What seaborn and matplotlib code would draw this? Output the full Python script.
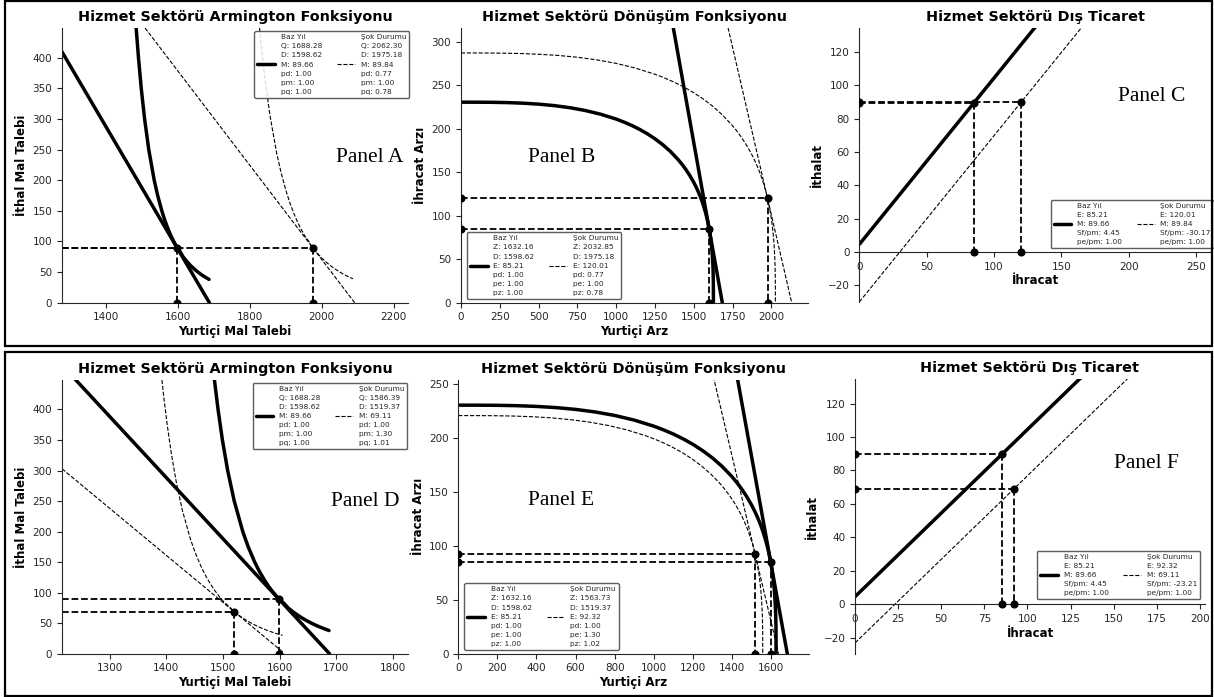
import matplotlib
matplotlib.use("Agg")
import matplotlib.pyplot as plt
import seaborn as sns
from matplotlib.patches import Rectangle
from matplotlib.ticker import MultipleLocator

sns.set_style("ticks")
plt.rcParams["font.family"] = ["DejaVu Sans"]

# ---- equilibrium values (base year / shock cases) ----
base_Q, base_D, base_M, base_Z, base_E = 1688.28, 1598.62, 89.66, 1632.16, 85.21
s1_Q, s1_D, s1_M, s1_Z, s1_E = 2062.30, 1975.18, 89.84, 2032.85, 120.01
s2_Q, s2_D, s2_M, s2_Z, s2_E = 1586.39, 1519.37, 69.11, 1563.73, 92.32

# ---- Armington isoquants (D, M) ----
arm_base_D = [1484.9, 1491.3, 1499.0, 1508.3, 1519.9, 1535.0, 1544.6, 1556.1, 1564.2, 1573.7, 1580.9,
              1589.1, 1598.6, 1608.3, 1615.1, 1624.6, 1637.1, 1646.1, 1656.3, 1667.9, 1681.4, 1687.4]
arm_base_M = [448.3, 400, 350, 300, 250, 200, 175, 150, 135, 120, 110,
              100, 89.66, 82, 75, 68, 60, 55, 50, 45, 40, 38]
arm_s1_D = [1827.7, 1831.1, 1842.4, 1856.6, 1875.1, 1886.8, 1900.9, 1910.7, 1922.3, 1931.1, 1941.1, 1952.7,
            1964.6, 1972.9, 1984.5, 1999.8, 2010.8, 2023.2, 2037.4, 2053.9, 2061.2, 2073.3, 2086.9]
arm_s1_M = [448.3, 427.5, 366.5, 305.4, 244.3, 213.8, 183.2, 164.9, 146.6, 134.4, 122.2, 109.5,
            100.2, 91.6, 83.1, 73.3, 67.2, 61.1, 55.0, 48.9, 46.4, 42.8, 39.1]
arm_s2_D = [1392.1, 1395.3, 1401.3, 1408.5, 1417.3, 1428.2, 1442.4, 1451.4, 1462.2, 1469.8, 1478.7, 1485.5,
            1493.2, 1502.1, 1511.2, 1517.6, 1526.5, 1538.3, 1546.8, 1556.3, 1567.2, 1579.9, 1585.6, 1594.9, 1605.3]
arm_s2_M = [448.3, 421.2, 375.9, 328.9, 281.9, 234.9, 187.9, 164.4, 140.9, 126.9, 112.8, 103.4,
            94.0, 84.2, 77.1, 70.5, 63.9, 56.4, 51.7, 47.0, 42.3, 37.6, 35.7, 32.9, 30.1]

# ---- isocost lines (D, M) ----
A_base_line_D, A_base_line_M = [1250, 1688.28], [438.28, 0]
A_s1_line_D, A_s1_line_M = [1450, 2091.9], [494.2, 0]
D_base_line_D, D_base_line_M = [1200, 1688.28], [488.28, 0]
D_s2_line_D, D_s2_line_M = [1215.5, 1606], [302.9, 2.5]

# ---- CET frontiers (D, E) ----
cet_base_D = [0, 100, 200, 300, 400, 500, 600, 700, 800, 900, 1000, 1050, 1100, 1150, 1200, 1250,
              1300, 1350, 1400, 1425, 1450, 1475, 1500, 1515, 1525, 1540, 1550, 1560, 1575, 1585,
              1590, 1598.62, 1605, 1610, 1615, 1618, 1620, 1623, 1624, 1625, 1626, 1626.2, 1626.53]
cet_base_E = [230.37, 230.35, 230.23, 229.89, 229.22, 228.12, 226.45, 224.08, 220.85, 216.55, 210.95,
              207.52, 203.66, 199.20, 194.17, 188.30, 181.57, 173.64, 164.25, 158.80, 152.77, 145.94,
              138.18, 132.88, 129.06, 122.74, 118.06, 112.92, 104.02, 97.00, 93.04, 85.21, 78.25,
              71.71, 63.67, 57.62, 52.70, 42.98, 38.47, 32.54, 22.87, 19.53, 0]
cet_s1_D = [0, 124.55, 249.10, 373.65, 498.20, 622.75, 747.30, 871.85, 996.40, 1120.95, 1245.50, 1307.78,
            1370.05, 1432.33, 1494.60, 1556.88, 1619.15, 1681.43, 1743.70, 1774.84, 1805.98, 1837.11,
            1868.25, 1886.93, 1899.39, 1918.07, 1930.53, 1942.98, 1961.66, 1974.12, 1980.35, 1991.08,
            1999.03, 2005.26, 2011.48, 2015.22, 2017.71, 2021.45, 2022.69, 2023.94, 2025.18, 2025.43, 2025.84]
cet_s1_E = [286.93, 286.90, 286.75, 286.33, 285.49, 284.12, 282.04, 279.09, 275.07, 269.71, 262.74,
            258.47, 253.66, 248.10, 241.84, 234.53, 226.15, 216.27, 204.57, 197.79, 190.27, 181.77,
            172.10, 165.50, 160.74, 152.87, 147.04, 140.64, 129.56, 120.81, 115.88, 106.13, 97.46,
            89.32, 79.30, 71.77, 65.64, 53.53, 47.91, 40.53, 28.48, 24.32, 0]
cet_s2_D = [0, 95.81, 191.61, 287.42, 383.23, 479.04, 574.84, 670.65, 766.46, 862.26, 958.07, 1005.97,
            1053.88, 1101.78, 1149.68, 1197.59, 1245.49, 1293.39, 1341.30, 1365.25, 1389.20, 1413.15,
            1437.11, 1451.48, 1461.06, 1475.43, 1484.99, 1494.59, 1508.96, 1518.54, 1523.33, 1531.59,
            1537.70, 1542.49, 1547.28, 1550.16, 1552.07, 1554.95, 1555.91, 1556.86, 1557.82, 1558.01, 1558.33]
cet_s2_E = [220.71, 220.69, 220.58, 220.25, 219.61, 218.55, 216.95, 214.68, 211.59, 207.47, 202.10,
            198.82, 195.12, 190.85, 186.03, 180.40, 173.96, 166.36, 157.36, 152.14, 146.36, 139.82,
            132.39, 127.31, 123.65, 117.59, 113.11, 108.19, 99.66, 92.93, 89.14, 81.64, 74.97,
            68.70, 61.00, 55.20, 50.49, 41.18, 36.86, 31.18, 21.91, 18.71, 0]

# ---- isorevenue lines (D, E) ----
B_base_line_D, B_base_line_E = [1350, 1683.83], [333.83, 0]
B_s1_line_D, B_s1_line_E = [1650, 2131.0], [370.4, 0]
E_s2_line_D, E_s2_line_E = [1250, 1639.4], [299.5, 0]

# ---- trade balance lines (E, M) ----
tr_base_E, tr_base_M = [0, 140], [4.45, 144.45]
tr_s1_E, tr_s1_M = [0, 175], [-30.17, 144.83]
tr_s2_E, tr_s2_M = [0, 170], [-23.21, 146.79]

# ---- legend texts ----
lab_arm_base = "Baz Yıl\nQ: 1688.28\nD: 1598.62\nM: 89.66\npd: 1.00\npm: 1.00\npq: 1.00"
lab_arm_s1 = "Şok Durumu\nQ: 2062.30\nD: 1975.18\nM: 89.84\npd: 0.77\npm: 1.00\npq: 0.78"
lab_arm_s2 = "Şok Durumu\nQ: 1586.39\nD: 1519.37\nM: 69.11\npd: 1.00\npm: 1.30\npq: 1.01"
lab_cet_base = "Baz Yıl\nZ: 1632.16\nD: 1598.62\nE: 85.21\npd: 1.00\npe: 1.00\npz: 1.00"
lab_cet_s1 = "Şok Durumu\nZ: 2032.85\nD: 1975.18\nE: 120.01\npd: 0.77\npe: 1.00\npz: 0.78"
lab_cet_s2 = "Şok Durumu\nZ: 1563.73\nD: 1519.37\nE: 92.32\npd: 1.00\npe: 1.30\npz: 1.02"
lab_tr_base = "Baz Yıl\nE: 85.21\nM: 89.66\nSf/pm: 4.45\npe/pm: 1.00"
lab_tr_s1 = "Şok Durumu\nE: 120.01\nM: 89.84\nSf/pm: -30.17\npe/pm: 1.00"
lab_tr_s2 = "Şok Durumu\nE: 92.32\nM: 69.11\nSf/pm: -23.21\npe/pm: 1.00"

W, H = 1214, 697
fig = plt.figure(figsize=(W / 100, H / 100), dpi=100)


def px_axes(x0, y0, x1, y1):
    return fig.add_axes([x0 / W, 1 - y1 / H, (x1 - x0) / W, (y1 - y0) / H])


def line(ax, x, y, lw, ls="-"):
    sns.lineplot(x=x, y=y, ax=ax, color="black", linewidth=lw, linestyle=ls,
                 sort=False, estimator=None)
    return ax.lines[-1]


def guides(ax, x, y, x0, left_marker):
    line(ax, [x0, x], [y, y], 1.3, "--")
    line(ax, [x, x], [y, 0], 1.3, "--")
    xs, ys = [x, x], [y, 0]
    if left_marker:
        xs.append(x0)
        ys.append(y)
    sns.scatterplot(x=xs, y=ys, ax=ax, color="black", s=34, linewidth=0, zorder=5)


def style(ax, title, xlabel, ylabel, xlim, ylim, xstep, ystep, panel, pxy):
    ax.set_xlim(*xlim)
    ax.set_ylim(*ylim)
    ax.xaxis.set_major_locator(MultipleLocator(xstep))
    ax.yaxis.set_major_locator(MultipleLocator(ystep))
    ax.set_title(title, fontsize=10.4, fontweight="bold", color="black", pad=5)
    ax.set_xlabel(xlabel, fontsize=8.5, fontweight="bold", color="black", labelpad=2)
    ax.set_ylabel(ylabel, fontsize=8.5, fontweight="bold", color="black", labelpad=3)
    ax.tick_params(labelsize=7.5, length=3.5, width=0.8)
    sns.despine(ax=ax)
    ax.text(pxy[0], pxy[1], panel, transform=ax.transAxes, ha="center", va="center",
            fontsize=15.5, family="Liberation Serif", color="black")


def legend(ax, handles, labels, loc, anchor):
    leg = ax.legend(handles, labels, ncol=2, fontsize=5.3, loc=loc, bbox_to_anchor=anchor,
                    borderaxespad=0, handlelength=2.4, handletextpad=0.8, columnspacing=2.0,
                    borderpad=0.4, frameon=True, fancybox=True, edgecolor="0.25", framealpha=0.85)
    for t in leg.get_texts():
        t.set_linespacing(1.62)


# ---------------- Panel A ----------------
axA = px_axes(62, 28, 408, 302.7)
hA1 = line(axA, arm_base_D, arm_base_M, 2.5)
line(axA, A_base_line_D, A_base_line_M, 2.5)
hA2 = line(axA, arm_s1_D, arm_s1_M, 0.8, "--")
line(axA, A_s1_line_D, A_s1_line_M, 0.8, "--")
guides(axA, base_D, base_M, 1278.9, False)
guides(axA, s1_D, s1_M, 1278.9, False)
style(axA, "Hizmet Sektörü Armington Fonksiyonu", "Yurtiçi Mal Talebi", "İthal Mal Talebi",
      (1278.9, 2240), (0, 448.3), 200, 50, "Panel A", (0.89, 0.53))
legend(axA, [hA1, hA2], [lab_arm_base, lab_arm_s1], "upper right", (1.003, 0.988))

# ---------------- Panel B ----------------
axB = px_axes(461, 28, 808, 302.7)
hB1 = line(axB, cet_base_D, cet_base_E, 2.5)
line(axB, B_base_line_D, B_base_line_E, 2.5)
hB2 = line(axB, cet_s1_D, cet_s1_E, 0.8, "--")
line(axB, B_s1_line_D, B_s1_line_E, 0.8, "--")
guides(axB, base_D, base_E, 0, True)
guides(axB, s1_D, s1_E, 0, True)
style(axB, "Hizmet Sektörü Dönüşüm Fonksiyonu", "Yurtiçi Arz", "İhracat Arzı",
      (0, 2236), (0, 315.6), 250, 50, "Panel B", (0.29, 0.53))
legend(axB, [hB1, hB2], [lab_cet_base, lab_cet_s1], "lower left", (0.017, 0.014))

# ---------------- Panel C ----------------
axC = px_axes(859.3, 28, 1211, 301.7)
hC1 = line(axC, tr_base_E, tr_base_M, 2.5)
hC2 = line(axC, tr_s1_E, tr_s1_M, 0.8, "--")
guides(axC, base_E, base_M, 0, True)
guides(axC, s1_E, s1_M, 0, True)
style(axC, "Hizmet Sektörü Dış Ticaret", "İhracat", "İthalat",
      (0, 261), (-30, 134.5), 50, 20, "Panel C", (0.83, 0.75))
axC.spines["left"].set_position(("data", 0))
axC.spines["bottom"].set_position(("data", 0))
legend(axC, [hC1, hC2], [lab_tr_base, lab_tr_s1], "lower right", (1.008, 0.195))

# ---------------- Panel D ----------------
axD = px_axes(62, 380, 408, 653.7)
hD1 = line(axD, arm_base_D, arm_base_M, 2.5)
line(axD, D_base_line_D, D_base_line_M, 2.5)
hD2 = line(axD, arm_s2_D, arm_s2_M, 0.8, "--")
line(axD, D_s2_line_D, D_s2_line_M, 0.8, "--")
guides(axD, base_D, base_M, 1215.5, False)
guides(axD, s2_D, s2_M, 1215.5, False)
style(axD, "Hizmet Sektörü Armington Fonksiyonu", "Yurtiçi Mal Talebi", "İthal Mal Talebi",
      (1215.5, 1827), (0, 448.3), 100, 50, "Panel D", (0.876, 0.555))
legend(axD, [hD1, hD2], [lab_arm_base, lab_arm_s2], "upper right", (0.998, 0.99))

# ---------------- Panel E ----------------
axE = px_axes(458.3, 380, 809, 653.7)
hE1 = line(axE, cet_base_D, cet_base_E, 2.5)
line(axE, B_base_line_D, B_base_line_E, 2.5)
hE2 = line(axE, cet_s2_D, cet_s2_E, 0.8, "--")
line(axE, E_s2_line_D, E_s2_line_E, 0.8, "--")
guides(axE, base_D, base_E, 0, True)
guides(axE, s2_D, s2_E, 0, True)
style(axE, "Hizmet Sektörü Dönüşüm Fonksiyonu", "Yurtiçi Arz", "İhracat Arzı",
      (0, 1795), (0, 253.7), 200, 50, "Panel E", (0.293, 0.56))
legend(axE, [hE1, hE2], [lab_cet_base, lab_cet_s2], "lower left", (0.017, 0.014))

# ---------------- Panel F ----------------
axF = px_axes(855, 379.3, 1205, 654.3)
hF1 = line(axF, tr_base_E, tr_base_M, 2.5)
hF2 = line(axF, tr_s2_E, tr_s2_M, 0.8, "--")
guides(axF, base_E, base_M, 0, True)
guides(axF, s2_E, s2_M, 0, True)
style(axF, "Hizmet Sektörü Dış Ticaret", "İhracat", "İthalat",
      (0, 203), (-30, 134.5), 25, 20, "Panel F", (0.833, 0.695))
axF.spines["left"].set_position(("data", 0))
axF.spines["bottom"].set_position(("data", 0))
legend(axF, [hF1, hF2], [lab_tr_base, lab_tr_s2], "lower right", (0.986, 0.2))

# frames around the two figure rows
for y0, y1 in [(1.5, 346), (352, 696)]:
    fig.patches.append(Rectangle((5 / W, 1 - y1 / H), 1207 / W, (y1 - y0) / H,
                                 transform=fig.transFigure, fill=False, lw=1.6, ec="black"))

fig.savefig("out.png", dpi=100)
